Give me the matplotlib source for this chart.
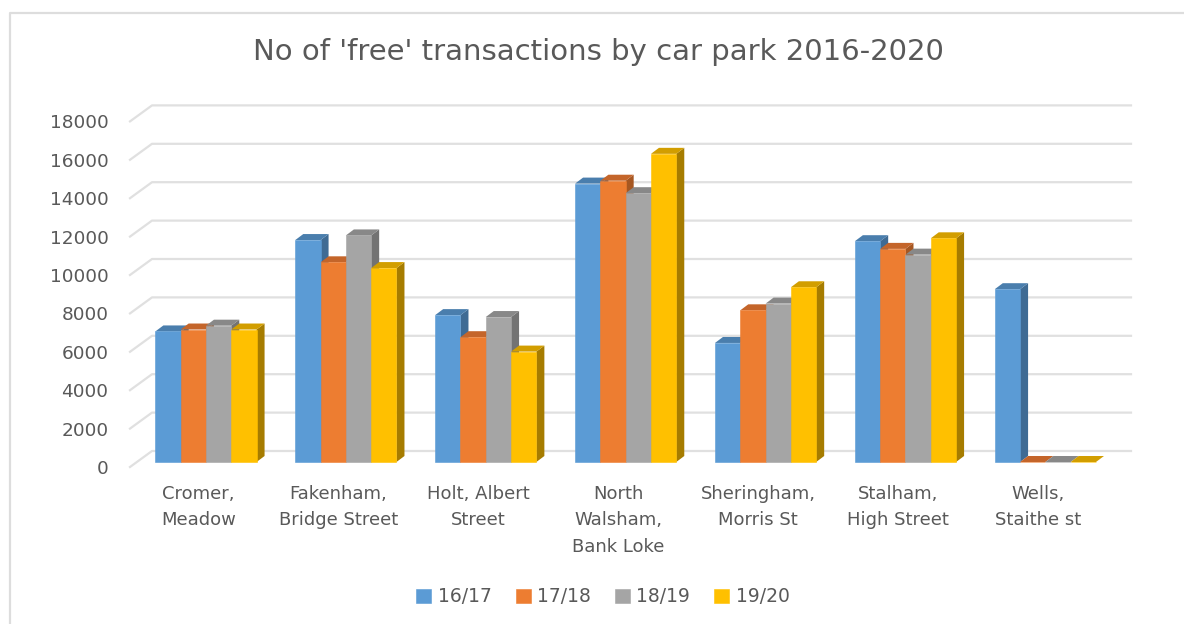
import numpy as np
import matplotlib
matplotlib.use("Agg")
import matplotlib.pyplot as plt
from matplotlib.patches import Polygon
from matplotlib.lines import Line2D

categories = ["Cromer,\nMeadow", "Fakenham,\nBridge Street", "Holt, Albert\nStreet",
              "North\nWalsham,\nBank Loke", "Sheringham,\nMorris St", "Stalham,\nHigh Street",
              "Wells,\nStaithe st"]
seasons = ["16/17", "17/18", "18/19", "19/20"]
v1617 = [6800, 11560, 7650, 14500, 6200, 11500, 9000]
v1718 = [6900, 10400, 6500, 14650, 7900, 11100, 0]
v1819 = [7100, 11800, 7550, 14000, 8250, 10800, 0]
v1920 = [6900, 10100, 5750, 16050, 9100, 11650, 0]
series = [v1617, v1718, v1819, v1920]
yticks = list(range(0, 18001, 2000))

front = ["#5B9BD5", "#ED7D31", "#A5A5A5", "#FFC000"]
side = ["#3F6B94", "#A65722", "#737373", "#A67C00"]
top = ["#4A7EAD", "#C4652A", "#888888", "#D29E00"]
text_col = "#595959"
grid_col = "#E0E0E0"

plt.rcParams["font.family"] = "DejaVu Sans"

W, H = 1184, 624
fig = plt.figure(figsize=(W / 100, H / 100), dpi=100)
# axes run from the front edge of the floor to the top of the back wall
ax = fig.add_axes([130 / W, 1 - 467 / H, 1001 / W, 362 / H])
ax.set_xlim(-0.543, 6.612)
ax.set_ylim(0, 18854)

# size of one pixel in data units
px_x = (6.612 + 0.543) / 1001
px_y = 18854 / 362

wall_dx, wall_dy = 22 * px_x, 16 * px_y
bar_dx, bar_dy = 8 * px_x, 6 * px_y
lift = 5 * px_y
bar_w = 25.3 * px_x

for t in yticks:
    ax.plot([-0.543, -0.543 + wall_dx, 6.612], [t, t + wall_dy, t + wall_dy],
            color=grid_col, lw=1.6, zorder=1, clip_on=False)

handles = []
for s, vals in enumerate(series):
    xs = np.arange(len(categories)) + (s - 1.5) * bar_w
    bars = ax.bar(xs, vals, width=bar_w, bottom=lift, color=front[s], edgecolor=front[s], lw=0.4,
                  zorder=2 + s * 3 + 2)
    handles.append(bars[0])
    for x, v in zip(xs, vals):
        x0, x1 = x - bar_w / 2, x + bar_w / 2
        y0, y1 = lift, lift + v
        ax.add_patch(Polygon([(x1, y0), (x1 + bar_dx, y0 + bar_dy), (x1 + bar_dx, y1 + bar_dy), (x1, y1)],
                             facecolor=side[s], edgecolor="none", zorder=2 + s * 3))
        ax.add_patch(Polygon([(x0, y1), (x0 + bar_dx, y1 + bar_dy), (x1 + bar_dx, y1 + bar_dy), (x1, y1)],
                             facecolor=top[s], edgecolor="none", zorder=2 + s * 3 + 1))

ax.set_yticks(yticks)
ax.set_yticklabels([str(t) for t in yticks], fontsize=13.3, color=text_col)
ax.tick_params(axis="y", length=0, pad=15.5)
ax.set_xticks(np.arange(len(categories)) - 0.055)
ax.set_xticklabels(categories, fontsize=13, color=text_col, linespacing=1.6)
ax.tick_params(axis="x", length=0, pad=13)
for sp in ax.spines.values():
    sp.set_visible(False)
ax.patch.set_alpha(0)

fig.text(598 / W, 1 - 52 / H, "No of 'free' transactions by car park 2016-2020",
         fontsize=21, color=text_col, ha="center", va="center")

fig.legend(handles, seasons, ncol=4, loc="center", bbox_to_anchor=(603 / W, 1 - 597 / H),
           frameon=False, fontsize=13.5, labelcolor=text_col, handlelength=0.8, handleheight=0.8,
           handletextpad=0.35, columnspacing=1.27)

# chart frame, only left and top show
fig.add_artist(Line2D([9.5 / W, 9.5 / W, 1], [0, 1 - 12.5 / H, 1 - 12.5 / H], color="#DDDDDD", lw=1.6))

fig.savefig("out.png", dpi=100)
